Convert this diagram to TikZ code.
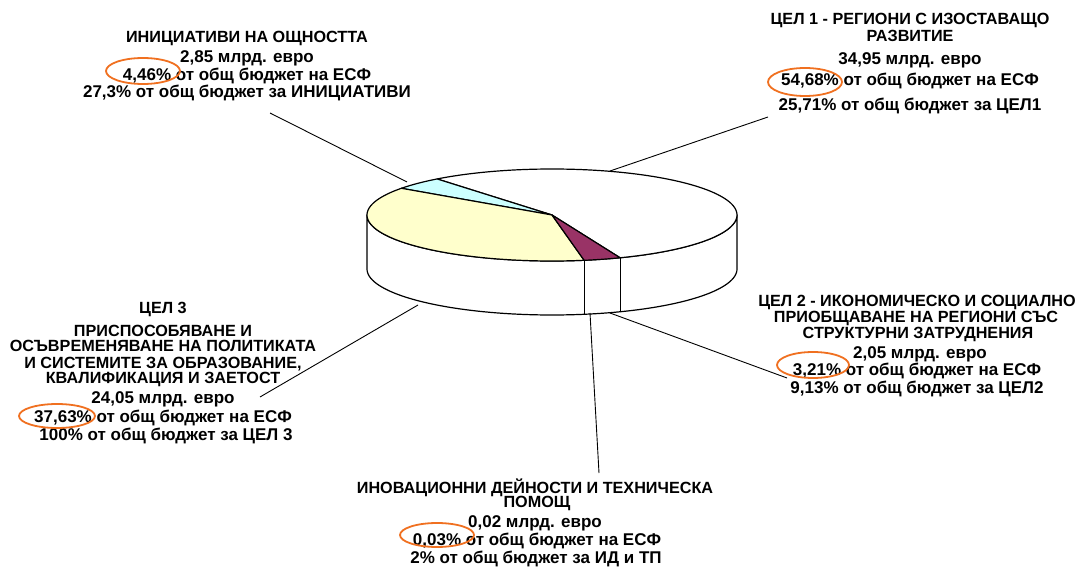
\documentclass[tikz,border=0pt]{standalone}
\usepackage{fontspec}
\setmainfont{Liberation Sans}
\definecolor{yelw}{HTML}{FFFFCC}
\definecolor{cyanw}{HTML}{CCFFFF}
\definecolor{purp}{HTML}{993366}
\definecolor{orng}{HTML}{F07020}
\begin{document}
\begin{tikzpicture}[x=1pt,y=-1pt,
  lbl/.style={font=\bfseries\fontsize{17}{17}\selectfont, anchor=base, inner sep=0pt},
  ttl/.style={font=\bfseries\fontsize{16.2}{16}\selectfont, anchor=base, inner sep=0pt},
  pieline/.style={line width=1.2pt, draw=black, line join=round},
  leader/.style={line width=0.9pt, black},
  hl/.style={draw=orng, line width=1.8pt}]
\useasboundingbox (0,0) rectangle (1082,569);
\def\cx{552}\def\cy{215}\def\rx{185}\def\ry{46}\def\dd{54}
\coordinate (pc) at (\cx,\cy);
% side of the pie
\filldraw[fill=white, pieline] plot[domain=180:360, samples=80] ({\cx+\rx*cos(\x)},{\cy-\ry*sin(\x)})
  -- plot[domain=360:180, samples=80] ({\cx+\rx*cos(\x)},{\cy+\dd-\ry*sin(\x)}) -- cycle;
\draw[pieline] ({\cx+\rx*cos(-80)},{\cy-\ry*sin(-80)}) -- ++(0,\dd);
\draw[pieline] ({\cx+\rx*cos(-68.4)},{\cy-\ry*sin(-68.4)}) -- ++(0,\dd);
% top wedges
\filldraw[fill=white, pieline] (pc) -- plot[domain=-68.4:128.4, samples=100] ({\cx+\rx*cos(\x)},{\cy-\ry*sin(\x)}) -- cycle;
\filldraw[fill=cyanw, pieline] (pc) -- plot[domain=128.4:144.5, samples=12] ({\cx+\rx*cos(\x)},{\cy-\ry*sin(\x)}) -- cycle;
\filldraw[fill=yelw, pieline] (pc) -- plot[domain=144.5:280, samples=80] ({\cx+\rx*cos(\x)},{\cy-\ry*sin(\x)}) -- cycle;
\filldraw[fill=purp, pieline] (pc) -- plot[domain=280:291.6, samples=12] ({\cx+\rx*cos(\x)},{\cy-\ry*sin(\x)}) -- cycle;

% leader end points
\coordinate (pA) at (407,182);  \coordinate (tA) at (270,113);
\coordinate (pB) at (610,171);  \coordinate (tB) at (768,117);
\coordinate (pC) at (418,305);  \coordinate (tC) at (260,397);
\coordinate (pD) at (610,313);  \coordinate (tD) at (787,378);
\coordinate (pE) at (590,313);  \coordinate (tE) at (599,473);
\draw[leader] (pA) -- (tA);
\draw[leader] (pB) -- (tB);
\draw[leader] (pC) -- (tC);
\draw[leader] (pD) -- (tD);
\draw[leader] (pE) -- (tE);

% block A
\node[ttl] (a1) at (247,43) {ИНИЦИАТИВИ НА ОЩНОСТТА};
\node[lbl] (a2) at (247,63) {2,85 млрд. евро};
\node[lbl] (a3) at (247,81) {4,46\% от общ бюджет на ЕСФ};
\node[lbl] (a4) at (247,98) {27,3\% от общ бюджет за ИНИЦИАТИВИ};
\draw[hl] (143,71) ellipse [x radius=37, y radius=13];
% block B
\node[ttl] (b1) at (910,25) {ЦЕЛ 1 - РЕГИОНИ С ИЗОСТАВАЩО};
\node[ttl] (b2) at (910,42) {РАЗВИТИЕ};
\node[lbl] (b3) at (910,65) {34,95 млрд. евро};
\node[lbl] (b4) at (910,86) {54,68\% от общ бюджет на ЕСФ};
\node[lbl] (b5) at (910,111) {25,71\% от общ бюджет за ЦЕЛ1};
\draw[hl] (805,82) ellipse [x radius=37, y radius=14];
% block C
\node[ttl] (c1) at (163,314) {ЦЕЛ 3};
\node[ttl] (c2) at (163,337) {ПРИСПОСОБЯВАНЕ И};
\node[ttl] (c3) at (163,352) {ОСЪВРЕМЕНЯВАНЕ НА ПОЛИТИКАТА};
\node[ttl] (c4) at (163,368) {И СИСТЕМИТЕ ЗА ОБРАЗОВАНИЕ,};
\node[ttl] (c5) at (163,384) {КВАЛИФИКАЦИЯ И ЗАЕТОСТ};
\node[lbl] (c6) at (163,403) {24,05 млрд. евро};
\node[lbl] (c7) at (163,422) {37,63\% от общ бюджет на ЕСФ};
\node[lbl] (c8) at (166,440) {100\% от общ бюджет за ЦЕЛ 3};
\draw[hl] (57,416) ellipse [x radius=38, y radius=12];
% block D
\node[ttl] (d1) at (917,307) {ЦЕЛ 2 - ИКОНОМИЧЕСКО И СОЦИАЛНО};
\node[ttl] (d2) at (916,323) {ПРИОБЩАВАНЕ НА РЕГИОНИ СЪС};
\node[ttl] (d3) at (918,338) {СТРУКТУРНИ ЗАТРУДНЕНИЯ};
\node[lbl] (d4) at (920,359) {2,05 млрд. евро};
\node[lbl] (d5) at (917,375) {3,21\% от общ бюджет на ЕСФ};
\node[lbl] (d6) at (917,393) {9,13\% от общ бюджет за ЦЕЛ2};
\draw[hl] (813,365) ellipse [x radius=36, y radius=13];
% block E
\node[ttl] (e1) at (535,493) {ИНОВАЦИОННИ ДЕЙНОСТИ И ТЕХНИЧЕСКА};
\node[ttl] (e2) at (537,507) {ПОМОЩ};
\node[lbl] (e3) at (535,527) {0,02 млрд. евро};
\node[lbl] (e4) at (537,545) {0,03\% от общ бюджет на ЕСФ};
\node[lbl] (e5) at (536,563) {2\% от общ бюджет за ИД и ТП};
\draw[hl] (437,535) ellipse [x radius=37, y radius=12];
\end{tikzpicture}
\end{document}
